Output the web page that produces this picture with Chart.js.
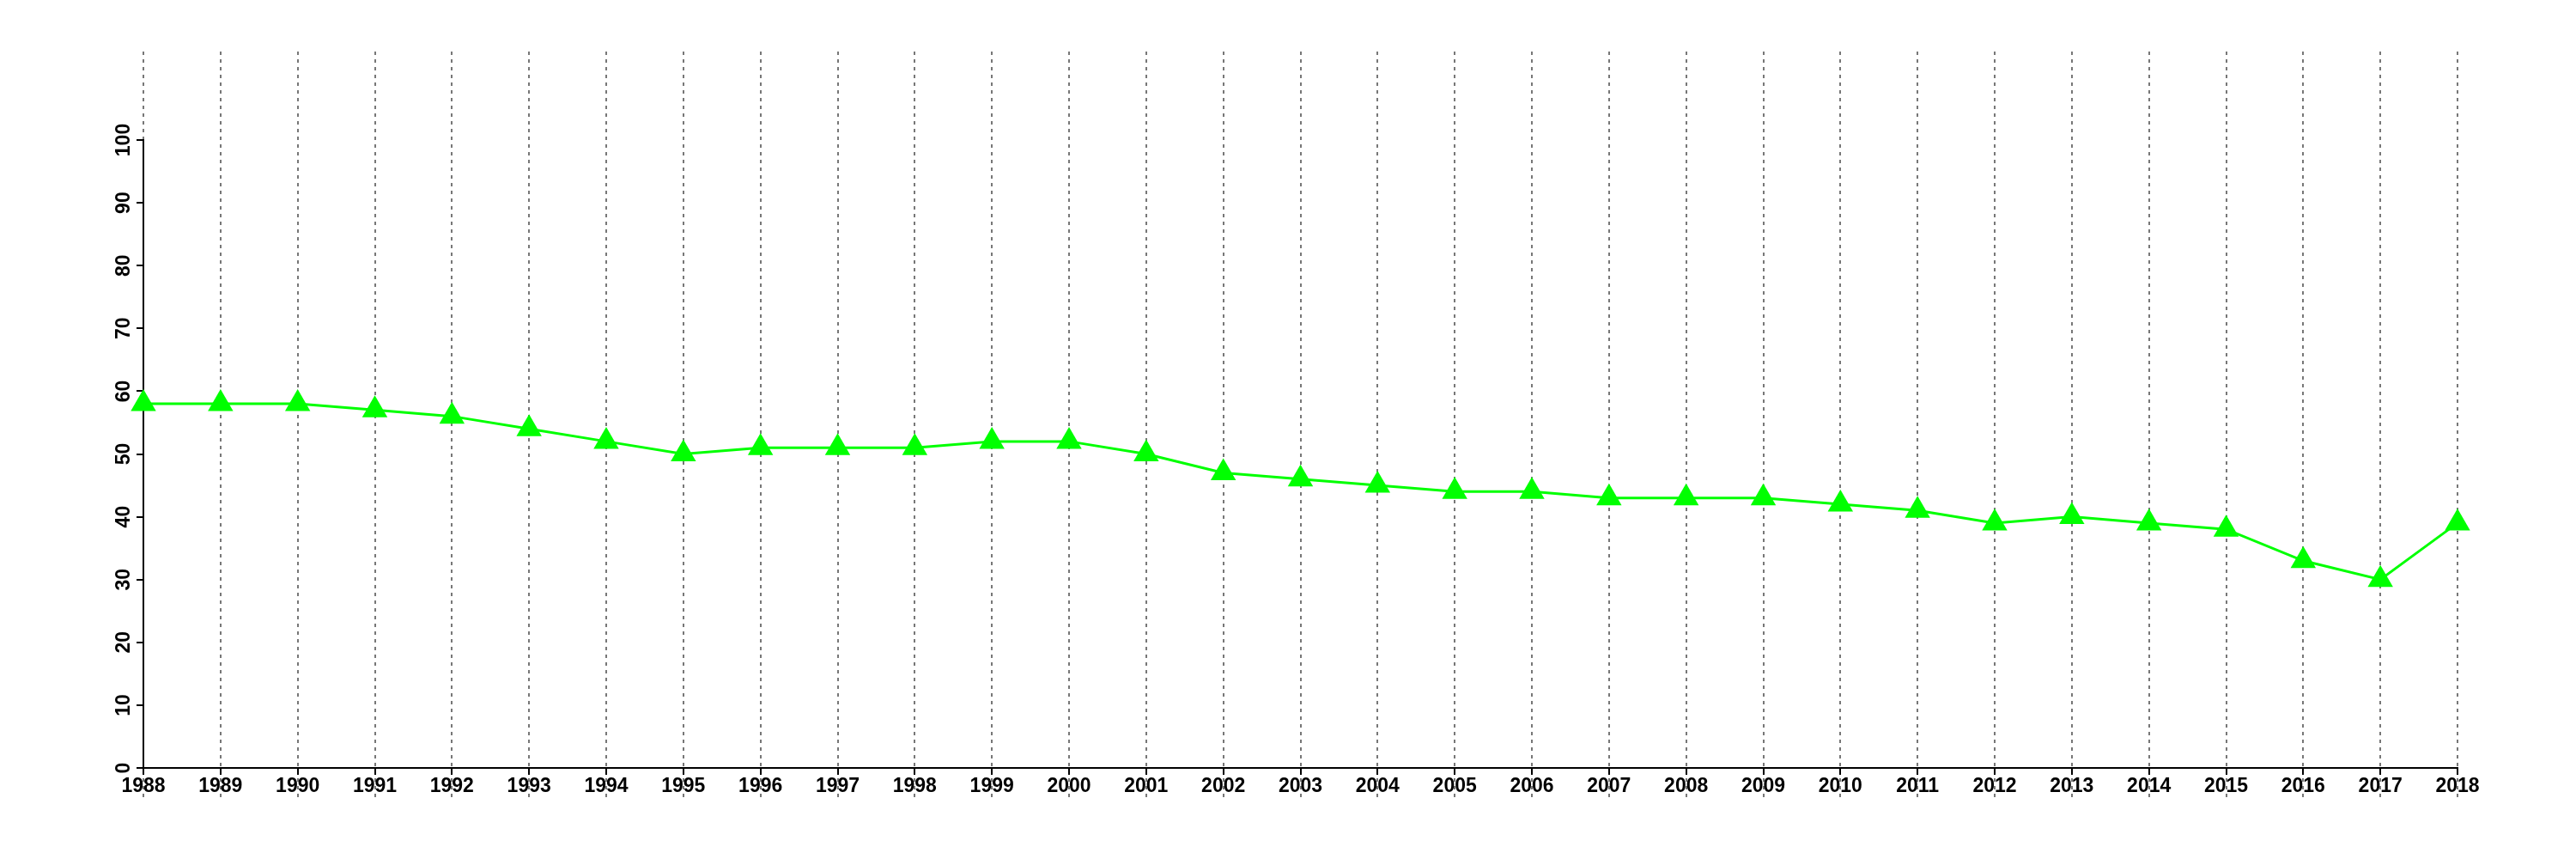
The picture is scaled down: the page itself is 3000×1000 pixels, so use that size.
<!DOCTYPE html>
<html>
<head>
<meta charset="utf-8">
<script src="https://cdn.jsdelivr.net/npm/chart.js@4/dist/chart.umd.min.js"></script>
<style>
  html, body { margin: 0; padding: 0; background: #fff; }
  #wrap { width: 3000px; height: 1000px; }
</style>
</head>
<body>
<div id="wrap"><canvas id="myChart" width="3000" height="1000"></canvas></div>
<script>
// years on the x axis
let years = ['1988', '1989', '1990', '1991', '1992', '1993', '1994', '1995', '1996', '1997', '1998',
             '1999', '2000', '2001', '2002', '2003', '2004', '2005', '2006', '2007', '2008', '2009',
             '2010', '2011', '2012', '2013', '2014', '2015', '2016', '2017', '2018'];
// value for each year
let values = [58, 58, 58, 57, 56, 54, 52, 50, 51, 51, 51,
              52, 52, 50, 47, 46, 45, 44, 44, 43, 43, 43,
              42, 41, 39, 40, 39, 38, 33, 30, 39];
// y axis ticks
let yTicks = [0, 10, 20, 30, 40, 50, 60, 70, 80, 90, 100];

const labelFont = 'bold 23px "Liberation Sans", Arial, sans-serif';

// dashed vertical lines, drawn first so the axes sit on top of them
const dashedGrid = {
    id: 'dashedGrid',
    beforeDraw(chart) {
        const ctx = chart.ctx;
        const xs = chart.scales.x;
        ctx.save();
        ctx.strokeStyle = '#777777';
        ctx.lineWidth = 2;
        ctx.setLineDash([4, 5]);
        years.forEach((y, i) => {
            const px = Math.round(xs.getPixelForValue(i));
            ctx.beginPath();
            ctx.moveTo(px, 60);
            ctx.lineTo(px, 928);
            ctx.stroke();
        });
        ctx.restore();
    }
};

// rotated labels for the y axis
const yLabels = {
    id: 'yLabels',
    afterDraw(chart) {
        const ctx = chart.ctx;
        const ys = chart.scales.y;
        ctx.save();
        ctx.fillStyle = '#000';
        ctx.font = labelFont;
        ctx.textAlign = 'center';
        ctx.textBaseline = 'alphabetic';
        yTicks.forEach(v => {
            ctx.save();
            ctx.translate(ys.left + ys.width - 16, ys.getPixelForValue(v));
            ctx.rotate(-Math.PI / 2);
            ctx.fillText(String(v), 0, 0);
            ctx.restore();
        });
        ctx.restore();
    }
};

const chart = document.getElementById('myChart').getContext('2d');
const myChart = new Chart(chart, {
    type: 'line',
    data: {
        labels: years,
        datasets: [{
            data: values,
            borderColor: '#00ff00',
            borderWidth: 3,
            backgroundColor: '#00ff00',
            pointStyle: 'triangle',
            pointRadius: 17,
            pointBorderWidth: 0,
            pointBorderColor: '#00ff00',
            pointBackgroundColor: '#00ff00',
            tension: 0
        }]
    },
    options: {
        responsive: false,
        animation: false,
        layout: { padding: { left: 0, top: 163, right: 138, bottom: 0 } },
        plugins: {
            legend: { display: false },
            tooltip: { enabled: false }
        },
        scales: {
            x: {
                type: 'category',
                offset: false,
                afterFit(scale) { scale.height = 106; },
                border: { display: true, color: '#000', width: 2 },
                grid: { drawOnChartArea: false, drawTicks: true, tickLength: 8, color: '#000', lineWidth: 2 },
                ticks: {
                    color: '#000',
                    font: { family: '"Liberation Sans", Arial, sans-serif', size: 23, weight: 'bold' },
                    padding: 0,
                    maxRotation: 0,
                    minRotation: 0,
                    autoSkip: false
                }
            },
            y: {
                min: 0,
                max: 100,
                afterFit(scale) { scale.width = 167; },
                border: { display: true, color: '#000', width: 2 },
                grid: { drawOnChartArea: false, drawTicks: true, tickLength: 8, color: '#000', lineWidth: 2 },
                ticks: { display: false, stepSize: 10 }
            }
        }
    },
    plugins: [dashedGrid, yLabels]
});
</script>
</body>
</html>
